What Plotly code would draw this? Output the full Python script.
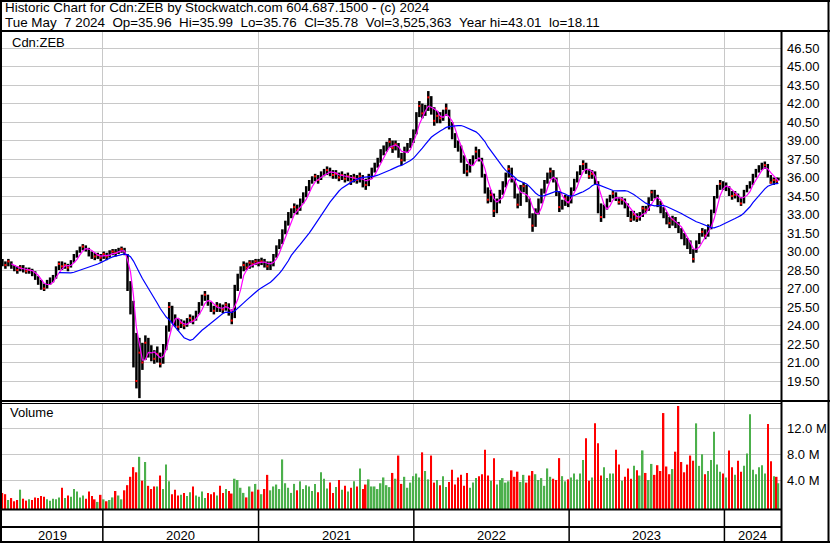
import pandas as pd
import plotly.graph_objects as go

W, H = 830, 543

# weekly bars (last one is the partial week to Tue May 7 2024)
dates = list(pd.date_range("2019-05-10", "2024-05-03", freq="W-FRI")) + [pd.Timestamp("2024-05-07")]

closes = [
    29.1, 28.9, 29.2, 28.8, 28.6, 28.5, 28.7, 28.6, 28.4, 28.5,
    28.3, 27.9, 27.6, 27.2, 27.0, 27.5, 27.6, 27.9, 28.6, 29.0,
    28.8, 28.9, 28.7, 29.1, 29.6, 30.0, 30.2, 30.4, 30.3, 29.9,
    29.7, 29.6, 29.7, 29.5, 29.8, 29.6, 29.9, 30.0, 29.9, 30.1,
    30.2, 30.0, 27.0, 26.2, 22.5, 19.5, 21.8, 21.0, 22.6, 21.9,
    21.6, 21.3, 21.7, 20.9, 22.0, 23.6, 25.5, 24.6, 24.4, 23.9,
    24.2, 24.0, 24.3, 24.6, 24.4, 24.9, 25.6, 26.2, 26.5, 25.8,
    25.4, 25.2, 25.6, 25.5, 25.3, 25.7, 25.2, 24.4, 26.9, 27.9,
    28.5, 28.9, 28.7, 29.1, 29.0, 29.2, 29.1, 29.2, 29.1, 28.8,
    28.9, 29.6, 30.3, 30.7, 31.5, 32.3, 32.9, 33.2, 33.6, 33.4,
    34.0, 34.5, 35.0, 35.6, 35.9, 36.1, 35.8, 36.3, 36.5, 36.6,
    36.4, 36.2, 36.3, 36.0, 36.2, 35.9, 36.1, 35.7, 36.0, 35.8,
    36.1, 35.6, 35.4, 36.0, 36.5, 36.9, 37.3, 38.0, 38.3, 38.6,
    38.9, 38.4, 38.7, 38.0, 37.4, 38.2, 38.5, 38.9, 39.6, 41.0,
    41.8, 41.2, 41.6, 42.5, 41.5, 40.6, 41.0, 40.8, 41.1, 41.6,
    40.2, 39.4, 38.7, 38.5, 37.6, 36.7, 36.5, 37.2, 37.5, 38.1,
    37.6, 36.2, 35.0, 34.2, 34.6, 33.3, 34.0, 34.8, 35.4, 36.1,
    36.7, 35.8, 34.6, 33.8, 35.1, 35.3, 34.2, 32.9, 32.1, 33.2,
    34.0, 34.9, 35.6, 36.1, 36.5, 35.9, 34.8, 33.6, 33.9, 34.3,
    34.0, 35.0, 35.7, 36.3, 36.8, 37.1, 36.5, 36.1, 36.3, 35.6,
    33.4, 32.8, 33.5, 34.1, 34.4, 34.7, 34.3, 34.0, 34.2, 33.8,
    33.1, 32.6, 33.0, 32.7, 32.9, 33.5, 33.4, 34.2, 34.8, 34.6,
    33.9, 33.4, 33.0, 32.6, 32.3, 32.6, 32.2, 31.8, 31.4, 30.9,
    30.6, 30.0, 29.4, 30.7, 31.3, 31.6, 31.3, 31.9, 33.2, 34.3,
    35.2, 35.5, 35.3, 35.3, 34.8, 34.5, 34.6, 34.3, 33.9, 34.8,
    35.2, 35.5, 36.1, 36.5, 36.8, 36.9, 37.0, 36.1, 35.6, 35.8,
    35.7, 35.78,
]

highs = [
    29.4, 29.2, 29.4, 29.2, 28.9, 28.8, 28.9, 28.9, 28.7, 28.7,
    28.6, 28.4, 28.0, 27.7, 27.4, 27.7, 27.9, 28.1, 28.8, 29.2,
    29.2, 29.1, 29.0, 29.3, 29.8, 30.1, 30.4, 30.6, 30.5, 30.3,
    30.0, 29.9, 29.9, 29.8, 30.0, 29.9, 30.1, 30.2, 30.2, 30.3,
    30.4, 30.3, 29.8, 27.6, 26.0, 23.4, 23.0, 22.6, 23.2, 23.0,
    22.4, 22.0, 22.3, 21.8, 22.5, 24.0, 25.9, 25.6, 24.9, 24.6,
    24.5, 24.4, 24.6, 24.9, 24.8, 25.2, 25.9, 26.5, 26.8, 26.5,
    25.9, 25.6, 25.9, 25.8, 25.7, 25.9, 25.8, 25.3, 27.3, 28.2,
    28.8, 29.2, 29.1, 29.3, 29.3, 29.4, 29.4, 29.5, 29.4, 29.2,
    29.2, 29.8, 30.5, 31.0, 31.8, 32.5, 33.2, 33.5, 33.9, 33.8,
    34.3, 34.8, 35.3, 35.8, 36.1, 36.3, 36.2, 36.5, 36.7, 36.9,
    36.8, 36.6, 36.6, 36.4, 36.5, 36.3, 36.4, 36.2, 36.3, 36.2,
    36.4, 36.2, 35.9, 36.3, 36.8, 37.2, 37.6, 38.3, 38.6, 38.9,
    39.2, 39.0, 39.0, 38.8, 38.0, 38.5, 38.8, 39.2, 39.9, 41.3,
    42.2, 42.0, 41.9, 43.01, 42.6, 41.7, 41.4, 41.3, 41.5, 42.0,
    41.5, 40.5, 39.6, 39.0, 38.6, 37.8, 37.1, 37.5, 37.8, 38.5,
    38.3, 37.6, 36.3, 35.2, 35.0, 34.7, 34.3, 35.0, 35.7, 36.4,
    37.0, 36.8, 35.9, 34.7, 35.4, 35.6, 35.4, 34.3, 33.1, 33.5,
    34.3, 35.1, 35.8, 36.4, 36.8, 36.6, 36.0, 34.9, 34.2, 34.6,
    34.5, 35.2, 35.9, 36.5, 37.0, 37.4, 37.2, 36.7, 36.6, 36.5,
    35.7, 33.9, 33.8, 34.3, 34.6, 34.9, 34.8, 34.4, 34.4, 34.3,
    33.9, 33.3, 33.3, 33.1, 33.2, 33.7, 33.7, 34.4, 35.0, 35.0,
    34.6, 34.1, 33.6, 33.2, 32.8, 32.9, 32.8, 32.4, 31.9, 31.5,
    31.1, 30.9, 30.2, 30.9, 31.5, 31.9, 31.8, 32.2, 33.4, 34.5,
    35.4, 35.8, 35.7, 35.6, 35.3, 34.9, 34.9, 34.7, 34.4, 35.0,
    35.4, 35.7, 36.3, 36.7, 37.0, 37.2, 37.3, 37.1, 36.2, 36.0,
    36.0, 35.99,
]

lows = [
    28.8, 28.6, 28.8, 28.6, 28.4, 28.2, 28.4, 28.3, 28.2, 28.2,
    28.0, 27.7, 27.3, 26.9, 26.8, 27.0, 27.3, 27.5, 27.8, 28.5,
    28.5, 28.6, 28.4, 28.7, 29.1, 29.5, 29.9, 30.1, 30.0, 29.6,
    29.4, 29.3, 29.4, 29.2, 29.4, 29.3, 29.5, 29.7, 29.6, 29.8,
    29.9, 29.7, 26.8, 24.9, 20.6, 18.9, 18.11, 20.4, 21.2, 21.4,
    21.1, 20.9, 21.0, 20.6, 20.9, 22.0, 23.5, 24.2, 23.9, 23.6,
    23.8, 23.7, 23.9, 24.2, 24.1, 24.4, 24.9, 25.6, 26.0, 25.6,
    25.1, 24.9, 25.1, 25.1, 25.0, 25.2, 24.8, 24.1, 24.6, 26.8,
    27.8, 28.4, 28.5, 28.6, 28.7, 28.9, 28.8, 28.9, 28.7, 28.5,
    28.5, 28.8, 29.5, 30.2, 30.6, 31.4, 32.1, 32.7, 33.1, 33.0,
    33.3, 33.9, 34.4, 34.9, 35.5, 35.7, 35.5, 35.8, 36.1, 36.2,
    36.1, 35.9, 35.9, 35.7, 35.8, 35.6, 35.7, 35.4, 35.6, 35.5,
    35.6, 35.2, 35.0, 35.3, 35.9, 36.4, 36.8, 37.2, 37.8, 38.1,
    38.4, 38.0, 38.2, 37.6, 37.0, 37.3, 38.0, 38.4, 38.8, 39.5,
    40.9, 40.8, 41.0, 41.4, 41.1, 40.2, 40.4, 40.4, 40.6, 41.0,
    39.9, 39.1, 38.4, 38.1, 37.2, 36.3, 36.1, 36.4, 37.0, 37.5,
    37.3, 36.0, 34.7, 33.9, 34.0, 32.8, 33.1, 33.9, 34.6, 35.2,
    36.0, 35.6, 34.3, 33.5, 33.7, 34.8, 34.0, 32.7, 31.6, 32.0,
    33.0, 33.9, 34.7, 35.5, 35.9, 35.6, 34.5, 33.2, 33.4, 33.7,
    33.6, 33.9, 34.9, 35.6, 36.2, 36.6, 36.3, 35.9, 35.9, 35.4,
    33.1, 32.4, 32.7, 33.4, 34.0, 34.3, 34.1, 33.8, 33.8, 33.5,
    32.8, 32.4, 32.5, 32.4, 32.5, 32.8, 33.1, 33.3, 34.1, 34.3,
    33.6, 33.1, 32.7, 32.2, 31.9, 32.1, 31.9, 31.5, 31.0, 30.5,
    30.2, 29.8, 29.1, 29.9, 30.6, 31.2, 31.0, 31.2, 31.8, 33.1,
    34.3, 35.0, 35.0, 34.9, 34.5, 34.2, 34.3, 34.0, 33.7, 33.9,
    34.8, 35.1, 35.4, 36.0, 36.4, 36.6, 36.7, 36.0, 35.5, 35.4,
    35.5, 35.76,
]

# volume in millions of shares
volumes = [
    2.0, 1.8, 0.9, 1.2, 0.7, 0.9, 2.5, 1.1, 0.8, 1.0,
    0.9, 1.3, 1.2, 1.5, 1.4, 1.0, 0.8, 1.1, 1.0, 1.3,
    2.8, 1.2, 1.6, 1.4, 2.6, 2.2, 1.3, 1.6, 1.1, 2.2,
    1.5, 1.0, 0.6, 1.7, 1.0, 0.7, 0.9, 1.3, 2.3, 1.6,
    1.0, 2.4, 3.2, 4.5, 6.0, 5.2, 7.6, 3.9, 6.8, 3.1,
    2.6, 3.0, 3.0, 4.7, 2.6, 6.4, 3.8, 1.8, 2.5, 1.6,
    1.7, 2.0, 1.5, 2.1, 3.0, 1.6, 1.4, 2.2, 1.2, 2.0,
    1.8, 2.1, 1.6, 3.1, 2.0, 2.6, 2.3, 1.9, 4.2, 4.0,
    2.8, 2.0, 1.3, 3.0, 2.2, 3.4, 2.5, 1.8, 2.6, 4.8,
    2.4, 3.0, 3.3, 2.6, 7.2, 3.5, 2.8, 2.0, 3.4, 2.4,
    3.8, 2.6, 3.2, 3.0, 2.3, 3.4, 2.1, 5.2, 4.2, 2.7,
    3.6, 2.0, 2.9, 4.0, 2.5, 3.1, 2.2, 2.8, 3.8, 3.0,
    5.8, 2.6, 3.3, 4.1, 3.0, 3.0, 2.6, 3.5, 4.4, 3.2,
    2.9, 5.1, 4.2, 7.8, 3.4, 4.5, 2.8, 3.6, 4.6, 5.0,
    4.4, 8.3, 5.4, 4.1, 7.8, 3.6, 4.0, 3.2, 4.6, 2.9,
    3.7, 5.6, 3.3, 4.4, 4.8, 3.1, 5.1, 2.8, 3.6, 4.3,
    4.6, 4.9, 8.7, 4.7, 3.9, 7.4, 3.3, 4.0, 4.3, 3.6,
    3.8, 5.5, 4.5, 5.3, 3.7, 4.8, 3.6, 4.7, 5.4, 4.9,
    4.0, 4.3, 3.1, 5.8, 4.5, 4.2, 4.0, 7.4, 4.6, 3.8,
    4.1, 4.4, 5.0, 4.1, 5.0, 7.1, 10.5, 3.9, 4.4, 12.8,
    9.7, 4.7, 6.0, 4.3, 5.0, 5.0, 8.7, 6.4, 3.9, 4.5,
    5.8, 4.2, 6.2, 5.5, 4.7, 8.6, 5.1, 4.0, 6.5, 4.8,
    6.3, 5.4, 14.4, 6.1, 4.9, 5.7, 8.4, 15.5, 6.8, 5.2,
    6.4, 7.8, 7.0, 12.8, 6.2, 8.0, 4.9, 5.4, 7.1, 11.5,
    6.4, 5.3, 5.0, 4.4, 8.6, 6.0, 4.8, 7.0, 5.3, 6.2,
    8.1, 14.2, 5.6, 4.9, 6.0, 6.3, 5.0, 12.7, 6.9, 4.6,
    4.5, 3.5,
]

price_ticks = [19.5, 21.0, 22.5, 24.0, 25.5, 27.0, 28.5, 30.0, 31.5, 33.0, 34.5,
               36.0, 37.5, 39.0, 40.5, 42.0, 43.5, 45.0, 46.5]
volume_ticks = [4, 8, 12]
years = [2019, 2020, 2021, 2022, 2023, 2024]

header_1 = "Historic Chart for Cdn:ZEB by Stockwatch.com 604.687.1500 - (c) 2024"
header_2 = ["Tue May", "7 2024", "Op=35.96", "Hi=35.99", "Lo=35.76", "Cl=35.78",
            "Vol=3,525,363", "Year hi=43.01", "lo=18.11"]

assert len(dates) == len(closes) == len(highs) == len(lows) == len(volumes)

FONT = "Liberation Sans, Arial, sans-serif"
GRID = "#c8c8c8"
x_range = [pd.Timestamp("2019-05-09"), pd.Timestamp("2024-05-13")]


def px(x):
    return x / W


def py(y):
    return 1 - y / H


closes_s = pd.Series(closes)
ma_short = closes_s.rolling(4).mean()
ma_long = closes_s.rolling(20).mean()

fig = go.Figure()

# price bars
bx, by = [], []
for d, h, l in zip(dates, highs, lows):
    bx += [d, d, None]
    by += [l, h, None]
fig.add_trace(go.Scatter(x=bx, y=by, mode="lines", line=dict(color="black", width=2.5),
                         hoverinfo="skip", xaxis="x", yaxis="y"))

# red close marks only show up at the turning points, like on the original
turn_x, turn_y = [], []
for i in range(1, len(closes) - 1):
    if (closes[i] - closes[i - 1]) * (closes[i + 1] - closes[i]) < 0:
        turn_x.append(dates[i])
        turn_y.append(closes[i])
fig.add_trace(go.Scatter(x=turn_x, y=turn_y, mode="markers",
                         marker=dict(symbol="square", size=2, color="red", line_width=0),
                         hoverinfo="skip", xaxis="x", yaxis="y"))
fig.add_trace(go.Scatter(x=dates, y=ma_short, mode="lines", line=dict(color="#ff00ff", width=1.2),
                         xaxis="x", yaxis="y"))
fig.add_trace(go.Scatter(x=dates, y=ma_long, mode="lines", line=dict(color="#0000ff", width=1.2),
                         xaxis="x", yaxis="y"))

# volume
vol_colors = ["#ff0000"]
for i in range(1, len(closes)):
    vol_colors.append("#4cb04c" if closes[i] >= closes[i - 1] else "#ff0000")
fig.add_trace(go.Bar(x=dates, y=[v + 0.5 for v in volumes], base=-0.5, marker_color=vol_colors,
                     marker_line_width=0, xaxis="x2", yaxis="y2", hoverinfo="skip"))

year_starts = [pd.Timestamp(f"{y}-01-01") for y in years[1:]]

xdom = [px(2), px(781)]
axis_common = dict(type="date", range=x_range, tickvals=year_starts, showticklabels=False,
                   showgrid=True, gridcolor=GRID, gridwidth=1, zeroline=False, ticks="",
                   showline=False)
fig.update_layout(
    width=W, height=H, margin=dict(l=0, r=0, t=0, b=0),
    paper_bgcolor="white", plot_bgcolor="white", showlegend=False, bargap=0.1,
    font=dict(family=FONT, size=13, color="black"),
    xaxis=dict(domain=xdom, anchor="y", **axis_common),
    xaxis2=dict(domain=xdom, anchor="y2", matches="x", **axis_common),
    yaxis=dict(domain=[py(400), py(32)], anchor="x", side="right", range=[17.96, 47.80],
               tickvals=price_ticks, ticktext=[f"{v:.2f}" for v in price_ticks],
               showgrid=True, gridcolor=GRID, zeroline=False, ticks="", ticklabelstandoff=5,
               tickfont=dict(size=13, family=FONT, color="black")),
    yaxis2=dict(domain=[py(509), py(403)], anchor="x2", side="right", range=[-0.5, 15.96],
                tickvals=volume_ticks, ticktext=[f"{v:.1f} M" for v in volume_ticks],
                showgrid=True, gridcolor=GRID, zeroline=False, ticks="", ticklabelstandoff=5,
                tickfont=dict(size=13, family=FONT, color="black")),
)

shapes = []


def hline(y, x0=0, x1=W, w=2):
    shapes.append(dict(type="line", xref="paper", yref="paper", x0=px(x0), x1=px(x1),
                       y0=py(y), y1=py(y), line=dict(color="black", width=w)))


def vline(x, y0=0, y1=H, w=2):
    shapes.append(dict(type="line", xref="paper", yref="paper", x0=px(x), x1=px(x),
                       y0=py(y0), y1=py(y1), line=dict(color="black", width=w)))


vline(1)
vline(828.5)
hline(1)
hline(542)
hline(31)
vline(781.5, 31, H)
hline(401, 0, W)
hline(403.5, 0, 781, 1)
hline(509.5, 0, 781)
hline(527, 0, 781)
for ys in year_starts:
    shapes.append(dict(type="line", xref="x", yref="paper", x0=ys, x1=ys,
                       y0=py(H), y1=py(509), line=dict(color="black", width=1.5)))
fig.update_layout(shapes=shapes)

ann = []
nb = "\u00a0\u00a0"
ann.append(dict(text=header_1, x=px(3), y=py(8), xref="paper", yref="paper",
                xanchor="left", yanchor="middle", showarrow=False, font=dict(size=13.4)))
ann.append(dict(text=nb.join(header_2), x=px(3), y=py(22), xref="paper", yref="paper",
                xanchor="left", yanchor="middle", showarrow=False, font=dict(size=13.4)))
ann.append(dict(text="Cdn:ZEB", x=px(10), y=py(42), xref="paper", yref="paper",
                xanchor="left", yanchor="middle", showarrow=False, font=dict(size=13)))
ann.append(dict(text="Volume", x=px(8), y=py(413), xref="paper", yref="paper",
                xanchor="left", yanchor="middle", showarrow=False, font=dict(size=13)))

bounds = [x_range[0]] + year_starts + [x_range[1]]
for y, a, b in zip(years, bounds[:-1], bounds[1:]):
    ann.append(dict(text=str(y), x=a + (b - a) / 2, y=py(535), xref="x", yref="paper",
                    xanchor="center", yanchor="middle", showarrow=False, font=dict(size=13)))
fig.update_layout(annotations=ann)

# the page body keeps its default 8px margin otherwise
fig.write_html("out.html", config={"displayModeBar": False},
               post_script="document.body.style.margin='0';")
